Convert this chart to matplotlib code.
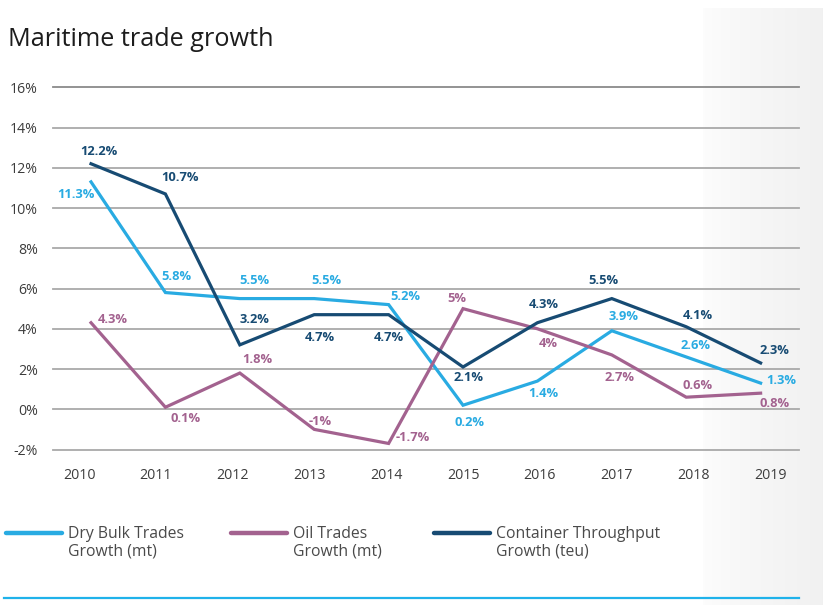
import numpy as np
import matplotlib
matplotlib.use("Agg")
import matplotlib.pyplot as plt
from matplotlib.lines import Line2D

plt.rcParams['font.family'] = ['Open Sans', 'DejaVu Sans']

years = [2010, 2011, 2012, 2013, 2014, 2015, 2016, 2017, 2018, 2019]
series_names = ["Dry Bulk Trades\nGrowth (mt)", "Oil Trades\nGrowth (mt)",
                "Container Throughput\nGrowth (teu)"]
dry_bulk = [11.3, 5.8, 5.5, 5.5, 5.2, 0.2, 1.4, 3.9, 2.6, 1.3]
oil = [4.3, 0.1, 1.8, -1, -1.7, 5, 4, 2.7, 0.6, 0.8]
container = [12.2, 10.7, 3.2, 4.7, 4.7, 2.1, 4.3, 5.5, 4.1, 2.3]
y_ticks = [-2, 0, 2, 4, 6, 8, 10, 12, 14, 16]

colors = ["#29abe2", "#a3628f", "#174b73"]

# label offsets in pixels (dx, dy; dy positive = up)
dry_off = [(-15, -13), (11, 16), (15, 18), (12, 18), (17, 8), (6, -17),
           (6, -12), (12, 14), (9, 11), (21, 3)]
oil_off = [(22, 3), (20, -11), (18, 14), (6, 8), (24, 6), (-6, 10),
           (11, -15), (8, -23), (11, 12), (14, -10)]
cont_off = [(8, 12), (15, 16), (15, 25), (6, -23), (0, -23), (6, -11),
            (6, 18), (-8, 18), (12, 11), (14, 12)]

W, H = 823, 605
fig = plt.figure(figsize=(W / 100, H / 100), dpi=100)
fig.patch.set_facecolor("white")

# soft grey panel fading in at the right edge
bg = fig.add_axes([0, 0, 1, 1], zorder=-5)
bg.axis("off")
grad = np.linspace(0, 1, 256) ** 0.8
rgb = 0.99 - grad * (0.99 - 0.945)
img = np.repeat(np.dstack([rgb, rgb, rgb]), 2, axis=0)
bg.imshow(img, extent=(703, W, H, 8), aspect="auto", interpolation="bilinear")
bg.set_xlim(0, W)
bg.set_ylim(H, 0)

ax = fig.add_axes([53 / W, 1 - 449.5 / H, (799 - 53) / W, (449.5 - 87.3) / H])
ax.set_facecolor("none")

x = np.arange(len(years))
for vals, col, offs in [(dry_bulk, colors[0], dry_off),
                        (oil, colors[1], oil_off),
                        (container, colors[2], cont_off)]:
    ax.plot(x, vals, color=col, lw=2.3, solid_joinstyle="miter", zorder=3)
    for xi, v, (dx, dy) in zip(x, vals, offs):
        ax.annotate(f"{v:g}%", (xi, v), xytext=(dx, dy),
                    textcoords="offset pixels", ha="center", va="center",
                    fontsize=9.3, fontweight="bold", color=col, zorder=4)

ax.set_xlim(-0.511, 9.516)
ax.set_ylim(-2, 16)
ax.set_yticks(y_ticks)
ax.set_yticklabels([f"{t}%" for t in y_ticks])
ax.set_xticks(5 + (x - 5) * 1.0323)
ax.set_xticklabels([str(y) for y in years])
ax.tick_params(axis="both", length=0, labelsize=10.2, labelcolor="#3c3c3c")
ax.tick_params(axis="y", pad=11)
ax.tick_params(axis="x", pad=13)
for s in ax.spines.values():
    s.set_visible(False)
ax.grid(axis="y", color="#a9a9a9", lw=1.3)
ax.grid(axis="x", visible=False)
gl = ax.get_ygridlines()
for g in gl:
    g.set_clip_on(False)
gl[-1].set_color("#8a8a8a")
ax.set_axisbelow(True)

fig.text(8 / W, 1 - 46 / H, "Maritime trade growth", fontsize=18.2,
         color="#1c1c1c", ha="left", va="baseline")

# legend
leg_x = [6, 231, 434]
for name, col, lx in zip(series_names, colors, leg_x):
    fig.add_artist(Line2D([lx / W, (lx + 56) / W], [1 - 533 / H, 1 - 533 / H],
                          color=col, lw=3.2, solid_capstyle="round"))
    fig.text((lx + 62) / W, 1 - 526 / H, name, fontsize=11.3, color="#4a4a4a",
             ha="left", va="top", linespacing=1.12)

fig.add_artist(Line2D([4 / W, 799 / W], [1 - 598 / H, 1 - 598 / H],
                      color="#1fb2ea", lw=1.6))

fig.savefig("out.png", dpi=100)
